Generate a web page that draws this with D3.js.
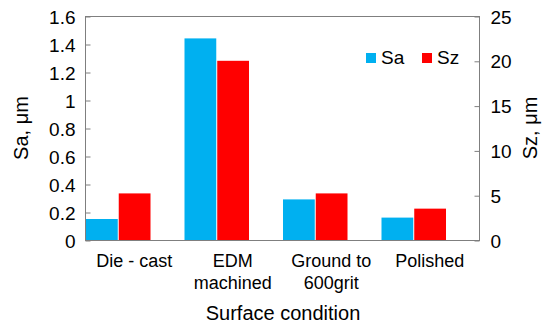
<!DOCTYPE html>
<html>
<head>
<meta charset="utf-8">
<script src="https://cdn.jsdelivr.net/npm/d3@7"></script>
<style>
  html, body { margin: 0; padding: 0; background: #fff; }
  text { font-family: "Liberation Sans", Arial, sans-serif; fill: #000; }
</style>
</head>
<body>
<svg id="chart" width="544" height="330"></svg>
<script>
const categories = [["Die - cast"], ["EDM", "machined"], ["Ground to", "600grit"], ["Polished"]];
const seriesNames = ["Sa", "Sz"];
const saValues = [0.15, 1.44, 0.29, 0.16];
const szValues = [5.2, 20.0, 5.2, 3.5];
const leftTicks = [0, 0.2, 0.4, 0.6, 0.8, 1, 1.2, 1.4, 1.6];
const rightTicks = [0, 5, 10, 15, 20, 25];
const colors = ["#00B0F0", "#FF0000"];

const svg = d3.select("#chart");
const m = { left: 85, right: 479, top: 16, bottom: 240 };

const x0 = d3.scaleBand().domain(d3.range(categories.length)).range([m.left, m.right]).padding(0);
const x1 = d3.scaleBand().domain(seriesNames).range([1, x0.bandwidth() * 0.665]).paddingInner(0.03);
const yL = d3.scaleLinear().domain([0, 1.6]).range([m.bottom, m.top]);
const yR = d3.scaleLinear().domain([0, 25]).range([m.bottom, m.top]);

const axisColor = "#7f7f7f";

// bars
const data = categories.map((c, i) => ({ i, Sa: saValues[i], Sz: szValues[i] }));
const g = svg.append("g");
data.forEach(d => {
  g.append("rect")
    .attr("x", x0(d.i) + x1("Sa"))
    .attr("y", yL(d.Sa))
    .attr("width", x1.bandwidth())
    .attr("height", yL(0) - yL(d.Sa))
    .attr("fill", colors[0]);
  g.append("rect")
    .attr("x", x0(d.i) + x1("Sz"))
    .attr("y", yR(d.Sz))
    .attr("width", x1.bandwidth())
    .attr("height", yR(0) - yR(d.Sz))
    .attr("fill", colors[1]);
});

// frame
svg.append("rect")
  .attr("x", m.left + 0.5).attr("y", m.top + 0.5)
  .attr("width", m.right - m.left).attr("height", m.bottom - m.top)
  .attr("fill", "none").attr("stroke", axisColor).attr("stroke-width", 1);

// left axis
const la = svg.append("g").attr("transform", `translate(${m.left + 0.5},0.5)`)
  .call(d3.axisRight(yL).tickValues(leftTicks).tickSize(5).tickFormat(d3.format("")));
la.select(".domain").remove();
la.selectAll("line").attr("stroke", axisColor);
la.selectAll("text").attr("x", -10).attr("text-anchor", "end")
  .style("font-size", "19px").attr("dy", "0.35em");

// right axis
const ra = svg.append("g").attr("transform", `translate(${m.right + 0.5},0.5)`)
  .call(d3.axisLeft(yR).tickValues(rightTicks).tickSize(5));
ra.select(".domain").remove();
ra.selectAll("line").attr("stroke", axisColor);
ra.selectAll("text").attr("x", 11).attr("text-anchor", "start")
  .style("font-size", "19px").attr("dy", "0.35em");

// category labels
categories.forEach((lines, i) => {
  const cx = x0(i) + x0.bandwidth() / 2;
  const t = svg.append("text")
    .attr("x", cx)
    .attr("y", 267)
    .attr("text-anchor", "middle")
    .style("font-size", "18px");
  lines.forEach((ln, k) => {
    t.append("tspan").attr("x", cx).attr("dy", k === 0 ? 0 : 22).text(ln);
  });
});

// axis titles
svg.append("text").attr("x", 283).attr("y", 320).attr("text-anchor", "middle")
  .style("font-size", "20px").text("Surface condition");
svg.append("text").attr("transform", `translate(28,${(m.top + m.bottom) / 2}) rotate(-90)`)
  .attr("text-anchor", "middle").style("font-size", "20px").text("Sa, μm");
svg.append("text").attr("transform", `translate(537,${(m.top + m.bottom) / 2}) rotate(-90)`)
  .attr("text-anchor", "middle").style("font-size", "20px").text("Sz, μm");

// legend
const legX = [366, 422];
seriesNames.forEach((s, i) => {
  svg.append("rect").attr("x", legX[i]).attr("y", 53).attr("width", 10).attr("height", 10).attr("fill", colors[i]);
  svg.append("text").attr("x", legX[i] + 15).attr("y", 63.5).style("font-size", "19px").text(s);
});
</script>
</body>
</html>
